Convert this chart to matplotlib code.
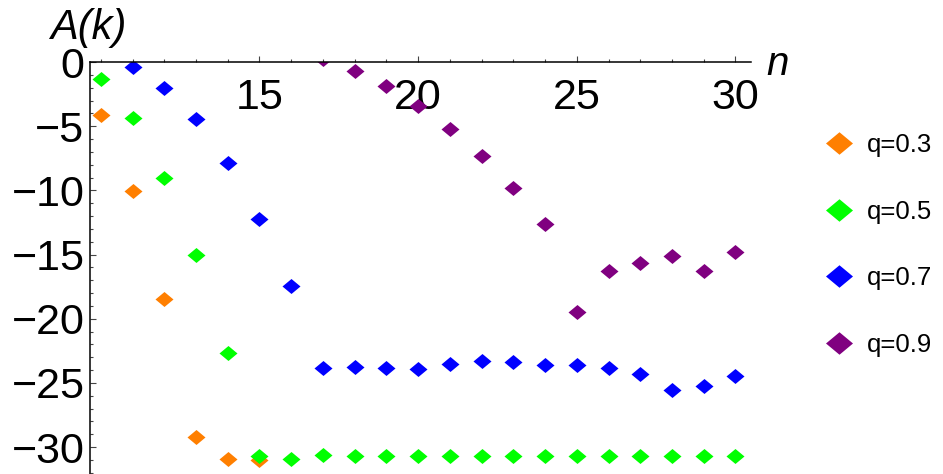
import matplotlib
matplotlib.use("Agg")
import matplotlib.pyplot as plt
from matplotlib.path import Path
from matplotlib.ticker import FixedLocator, MultipleLocator

# ---- data ----
n_orange = [10, 11, 12, 13, 14, 15]
a_orange = [-4.13, -10.02, -18.43, -29.18, -30.94, -31.0]

n_green = list(range(10, 31))
a_green = [-1.35, -4.38, -9.01, -15.03, -22.69, -30.66, -30.94, -30.63,
           -30.66, -30.66, -30.66, -30.66, -30.66, -30.66, -30.66, -30.66,
           -30.66, -30.66, -30.66, -30.66, -30.66]

n_blue = list(range(11, 31))
a_blue = [-0.37, -2.0, -4.44, -7.89, -12.25, -17.42, -23.86, -23.73, -23.81,
          -23.93, -23.5, -23.26, -23.36, -23.57, -23.57, -23.86, -24.27,
          -25.55, -25.21, -24.43]

n_purple = list(range(17, 31))
a_purple = [0.2, -0.70, -1.87, -3.43, -5.19, -7.30, -9.79, -12.62, -19.45,
            -16.25, -15.63, -15.09, -16.25, -14.77]

labels = ["q=0.3", "q=0.5", "q=0.7", "q=0.9"]
colors = ["#FF7F00", "#00FF00", "#0000FF", "#800080"]
x_major = [15, 20, 25, 30]
y_major = [0, -5, -10, -15, -20, -25, -30]

# ---- style ----
plt.rcParams['font.family'] = ['Liberation Sans', 'DejaVu Sans']
plt.rcParams['axes.unicode_minus'] = True

W, H = 943, 474
fig = plt.figure(figsize=(W / 100, H / 100), dpi=100)
ax = fig.add_axes([90 / W, 0, 661 / W, 412 / H])

diamond = Path([(-1, 0), (0, 0.833), (1, 0), (0, -0.833), (-1, 0)],
               [Path.MOVETO, Path.LINETO, Path.LINETO, Path.LINETO, Path.CLOSEPOLY])

series = [(n_orange, a_orange), (n_green, a_green), (n_blue, a_blue), (n_purple, a_purple)]
handles = []
for (xs, ys), c, lab in zip(series, colors, labels):
    h, = ax.plot(xs, ys, linestyle='none', marker=diamond, markersize=12.96,
                 markerfacecolor=c, markeredgewidth=0, color=c, label=lab)
    handles.append(h)

ax.set_xlim(9.66, 30.49)
ax.set_ylim(-32.09, 0)

for s in ['top', 'right']:
    ax.spines[s].set_visible(False)
ax.spines['bottom'].set_position(('data', 0))
ax.spines['bottom'].set_linewidth(1.1)
ax.spines['left'].set_linewidth(1.1)

ax.xaxis.set_major_locator(FixedLocator(x_major))
ax.xaxis.set_minor_locator(MultipleLocator(1))
ax.yaxis.set_major_locator(FixedLocator(y_major))
ax.yaxis.set_minor_locator(MultipleLocator(1))

ax.tick_params(axis='x', which='both', direction='in', color='#444444')
ax.tick_params(axis='x', which='major', length=4.3, width=0.8, pad=11.5, labelsize=31)
ax.tick_params(axis='x', which='minor', length=2.5, width=0.8)
ax.tick_params(axis='y', which='both', direction='in', color='#444444')
ax.tick_params(axis='y', which='major', length=4.3, width=0.8, pad=4, labelsize=31)
ax.tick_params(axis='y', which='minor', length=2.5, width=0.8)

fig.text(88 / W, 1 - 28 / H, "A(k)", fontsize=30, style='italic',
         ha='center', va='center')
fig.text(766 / W, 1 - 64 / H, "n", fontsize=29, style='italic',
         ha='left', va='center')

fig.legend(handles=handles, labels=labels, loc='upper left',
           bbox_to_anchor=(826 / W, 1 - 133 / H), frameon=False,
           fontsize=18.5, markerscale=1.5, handlelength=1.0, handletextpad=0.6,
           labelspacing=1.66, borderpad=0, borderaxespad=0)

fig.savefig("out.png", dpi=100)
